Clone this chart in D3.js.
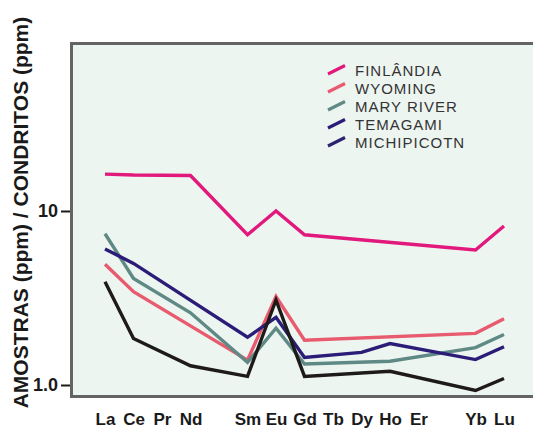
<!DOCTYPE html>
<html>
<head>
<meta charset="utf-8">
<script src="https://cdn.jsdelivr.net/npm/d3@7"></script>
<style>
  html, body { margin: 0; padding: 0; background: #ffffff; }
  svg { display: block; }
</style>
</head>
<body>
<script>
// Rare earth elements (chondrite-normalised), slot index leaves gaps for Pm and Tm
const elements = ["La", "Ce", "Pr", "Nd", "Sm", "Eu", "Gd", "Tb", "Dy", "Ho", "Er", "Yb", "Lu"];
const slots    = [0, 1, 2, 3, 5, 6, 7, 8, 9, 10, 11, 13, 14];

const seriesNames = ["FINLÂNDIA", "WYOMING", "MARY RIVER", "TEMAGAMI", "MICHIPICOTN"];
const lineColors  = ["#e2197c", "#e85a6e", "#5e8984", "#2b1c78", "#1e1a1a"];
const keyColors   = ["#e2197c", "#e85a6e", "#5e8984", "#2b1c78", "#2b2270"];

// Sample / chondrite ratios; null = not analysed
const finlandia   = [16.3, 16.1, null, 16.0, 7.3, 10.0, 7.3, null, null, null, null, 5.97, 8.2];
const wyoming     = [4.94, 3.44, null, null, 1.39, 3.22, 1.81, null, null, null, null, 1.98, 2.40];
const maryRiver   = [7.4, 4.1, null, 2.6, 1.35, 2.12, 1.32, null, null, 1.37, null, 1.64, 1.95];
const temagami    = [6.05, 5.0, null, null, 1.88, 2.45, 1.44, null, 1.54, 1.73, null, 1.40, 1.66];
const michipicotn = [3.92, 1.85, null, 1.29, 1.12, 3.08, 1.12, null, null, 1.20, null, 0.93, 1.09];

const yTicks = [1, 10];
const yTickLabels = ["1.0", "10"];

const seriesValues = [finlandia, wyoming, maryRiver, temagami, michipicotn];

const W = 533, H = 431;
const frame = { left: 71.5, top: 43.5, right: 540, bottom: 396.5 };

const svg = d3.select("body").append("svg")
  .attr("width", W).attr("height", H);

const x = d3.scaleLinear().domain([0, 14]).range([105, 504]);
const y = d3.scaleLog().domain([1, 10]).range([385, 211]);

// plot background
svg.append("rect")
  .attr("x", frame.left).attr("y", frame.top)
  .attr("width", frame.right - frame.left).attr("height", frame.bottom - frame.top)
  .attr("fill", "#edf5f1");

// series lines
const line = d3.line()
  .defined(d => d.v != null)
  .x(d => x(d.s))
  .y(d => y(d.v));

seriesValues.forEach((vals, i) => {
  const pts = vals.map((v, k) => ({ s: slots[k], v })).filter(d => d.v != null);
  svg.append("path")
    .datum(pts)
    .attr("fill", "none")
    .attr("stroke", lineColors[i])
    .attr("stroke-width", 3.4)
    .attr("stroke-linejoin", "miter")
    .attr("d", line);
});

// frame: left, top and bottom edges
svg.append("path")
  .attr("d", `M${frame.right},${frame.top}H${frame.left}V${frame.bottom}H${frame.right}`)
  .attr("fill", "none")
  .attr("stroke", "#646464")
  .attr("stroke-width", 3);

// y axis ticks
const yAxis = d3.axisLeft(y)
  .tickValues(yTicks)
  .tickFormat((d, i) => yTickLabels[i])
  .tickSize(9)
  .tickPadding(3);
const gy = svg.append("g")
  .attr("transform", `translate(${frame.left - 1.5},0)`)
  .call(yAxis);
gy.select(".domain").remove();
gy.selectAll(".tick line").attr("stroke", "#1a1a1a").attr("stroke-width", 2);
gy.selectAll(".tick text")
  .attr("fill", "#1a1a1a")
  .style("font-family", "'Liberation Sans', Arial, sans-serif")
  .style("font-weight", "bold")
  .style("font-size", "18px");

// x axis element labels
const xAxis = d3.axisBottom(x)
  .tickValues(slots)
  .tickFormat((d, i) => elements[i])
  .tickSize(0)
  .tickPadding(0);
const gx = svg.append("g")
  .attr("transform", "translate(0,413)")
  .call(xAxis);
gx.select(".domain").remove();
gx.selectAll(".tick text")
  .attr("fill", "#1a1a1a")
  .attr("dy", "0.71em")
  .style("font-family", "'Liberation Sans', Arial, sans-serif")
  .style("font-weight", "bold")
  .style("font-size", "17px");

// y axis title
svg.append("text")
  .attr("transform", "translate(28,212.5) rotate(-90)")
  .attr("text-anchor", "middle")
  .attr("fill", "#1a1a1a")
  .style("font-family", "'Liberation Sans', Arial, sans-serif")
  .style("font-weight", "bold")
  .style("font-size", "21px")
  .text("AMOSTRAS (ppm) / CONDRITOS (ppm)");

// legend
const legend = svg.append("g").attr("transform", "translate(328,76)");
seriesNames.forEach((name, i) => {
  const g = legend.append("g").attr("transform", `translate(0,${i * 18})`);
  g.append("line")
    .attr("x1", 0).attr("y1", -2)
    .attr("x2", 17).attr("y2", -10.5)
    .attr("stroke", keyColors[i])
    .attr("stroke-width", 3.2);
  g.append("text")
    .attr("x", 27).attr("y", 0)
    .attr("fill", "#333333")
    .style("font-family", "'Liberation Sans', Arial, sans-serif")
    .style("font-size", "15px")
    .style("letter-spacing", "1px")
    .text(name);
});
</script>
</body>
</html>
